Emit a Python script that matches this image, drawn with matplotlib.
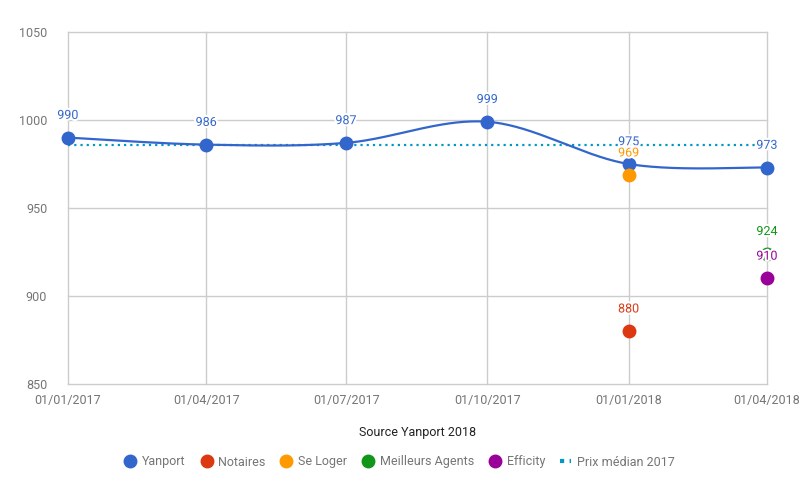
import matplotlib
matplotlib.use("Agg")
import matplotlib.pyplot as plt
import matplotlib.dates as mdates
import matplotlib.patheffects as pe
from matplotlib.lines import Line2D
import numpy as np
import datetime as dt

plt.rcParams['font.family'] = ['Roboto', 'DejaVu Sans']

dates = ["2017-01-01", "2017-04-01", "2017-07-01", "2017-10-01", "2018-01-01", "2018-04-01"]
yanport = [990, 986, 987, 999, 975, 973]
yanport_labels = ["990", "986", "987", "999", "975", "973"]
notaires = [None, None, None, None, 880, None]
seloger = [None, None, None, None, 969, None]
meilleurs = [None, None, None, None, None, 924]
efficity = [None, None, None, None, None, 910]
prix_median = 986
xtick_labels = ["01/01/2017", "01/04/2017", "01/07/2017", "01/10/2017", "01/01/2018", "01/04/2018"]
yticks = [850, 900, 950, 1000, 1050]

colors = {
    "Yanport": "#3366cc",
    "Notaires": "#dc3912",
    "Se Loger": "#ff9900",
    "Meilleurs Agents": "#109618",
    "Efficity": "#990099",
    "Prix médian 2017": "#0099c6",
}

xd = [dt.datetime.strptime(d, "%Y-%m-%d") for d in dates]
xn = mdates.date2num(xd)

fig = plt.figure(figsize=(8.01, 4.95), dpi=100)
ax = fig.add_axes([68/801, (495-384)/495, 699/801, 352/495])
ax.set_xlim(xn[0], xn[-1])
ax.set_ylim(850, 1050)

# gridlines
ax.set_yticks(yticks)
ax.set_xticks(xn)
ax.set_xticklabels(xtick_labels)
ax.grid(True, color="#cccccc", linewidth=1)
for gl in ax.get_xgridlines() + ax.get_ygridlines():
    gl.set_clip_on(False)
ax.set_axisbelow(True)
for s in ax.spines.values():
    s.set_visible(False)
ax.tick_params(length=0, colors="#757575", labelsize=9)
ax.tick_params(axis='y', pad=15)
ax.tick_params(axis='x', pad=7)

# smooth curve (cubic Bezier, Catmull-Rom style tangents)
P = np.column_stack([xn, np.array(yanport, dtype=float)])
n = len(P)
curve = []
for i in range(n - 1):
    p0 = P[i]
    p3 = P[i + 1]
    prev = P[i - 1] if i > 0 else P[i]
    nxt = P[i + 2] if i + 2 < n else P[i + 1]
    c1 = p0 + (p3 - prev) / 6.0
    c2 = p3 - (nxt - p0) / 6.0
    t = np.linspace(0, 1, 60)[:, None]
    seg = (1-t)**3*p0 + 3*(1-t)**2*t*c1 + 3*(1-t)*t**2*c2 + t**3*p3
    curve.append(seg)
curve = np.vstack(curve)

# Prix median dotted line
ax.plot([xn[0], xn[-1]], [prix_median, prix_median], color=colors["Prix médian 2017"],
        linewidth=1.6, linestyle=(0, (1, 1.8)), zorder=2, clip_on=False)

ax.plot(curve[:, 0], curve[:, 1], color=colors["Yanport"], linewidth=1.6, zorder=3, clip_on=False)
ax.plot(xn, yanport, 'o', color=colors["Yanport"], markersize=9, zorder=4, clip_on=False)

halo = [pe.withStroke(linewidth=3, foreground="white")]

def lab(x, y, text, color, dy=16):
    ax.annotate(text, (x, y), xytext=(0, dy), textcoords="offset points",
                ha="center", va="center", color=color, fontsize=9, zorder=6,
                annotation_clip=False, path_effects=halo)

for x, y, t in zip(xn, yanport, yanport_labels):
    lab(x, y, t, colors["Yanport"])

for name, series in [("Notaires", notaires), ("Se Loger", seloger),
                     ("Meilleurs Agents", meilleurs), ("Efficity", efficity)]:
    for x, y in zip(xn, series):
        if y is not None:
            ax.plot([x], [y], 'o', color=colors[name], markersize=9, zorder=4, clip_on=False)
            lab(x, y, str(y), colors[name], dy=15.5 if name == "Se Loger" else 16)

ax.set_xlabel("Source Yanport 2018", color="#222222", fontsize=9, labelpad=14)

handles = []
for name in ["Yanport", "Notaires", "Se Loger", "Meilleurs Agents", "Efficity"]:
    handles.append(Line2D([], [], marker='o', linestyle='none', color=colors[name],
                          markersize=9, label=name))
handles.append(Line2D([], [], color=colors["Prix médian 2017"], linewidth=3,
                      linestyle=(0, (1, 1.3)), label="Prix médian 2017"))
leg = fig.legend(handles=handles, loc="center", bbox_to_anchor=(400/801, 1 - 462/495),
                 ncol=6, frameon=False, fontsize=9, handlelength=0.9,
                 handletextpad=0.5, columnspacing=1.2)
for t in leg.get_texts():
    t.set_color("#757575")

fig.savefig("out.png", dpi=100)
